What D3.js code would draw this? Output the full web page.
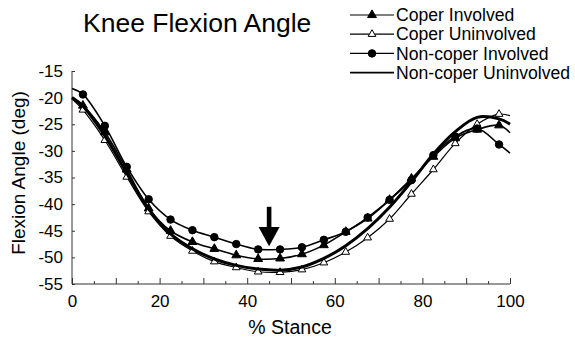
<!DOCTYPE html>
<html>
<head>
<meta charset="utf-8">
<script src="https://cdn.jsdelivr.net/npm/d3@7"></script>
<style>
  body { margin: 0; background: #fff; }
  svg { display: block; font-family: "Liberation Sans", Arial, sans-serif; }
</style>
</head>
<body>
<svg id="chart" width="575" height="339"></svg>
<script>
// % stance where the curves were sampled (markers drawn at the inner points)
var stance = [0, 2.5, 7.5, 12.5, 17.5, 22.5, 27.5, 32.5, 37.5, 42.5, 47.5, 52.5,
              57.5, 62.5, 67.5, 72.5, 77.5, 82.5, 87.5, 92.5, 97.5, 100];

var coperInvolved = [-20.0, -21.5, -26.5, -33.5, -40.8, -45.0, -47.1, -48.4, -49.6, -50.3, -50.2,
                     -49.4, -47.7, -45.2, -42.7, -39.2, -35.2, -31.1, -27.6, -26.0, -25.2, -26.6];
var coperUninvolved = [-20.2, -22.3, -28.0, -34.9, -41.4, -46.0, -48.8, -50.8, -51.9, -52.7, -52.8,
                       -52.3, -51.0, -49.0, -46.3, -42.8, -38.1, -33.5, -28.6, -25.0, -23.1, -23.4];
var noncoperInvolved = [-18.3, -19.4, -25.3, -33.0, -39.1, -42.9, -44.9, -46.2, -47.5, -48.5, -48.5,
                        -48.1, -46.7, -45.2, -42.5, -39.2, -35.5, -30.8, -27.3, -25.8, -28.8, -30.4];
var noncoperUninvolved = [-20.0, -21.6, -27.2, -34.2, -40.9, -45.6, -48.4, -50.3, -51.5, -52.2, -52.4,
                          -51.8, -50.2, -47.8, -44.6, -40.6, -35.8, -30.6, -26.4, -23.7, -24.0, -25.0];

var seriesNames = ["Coper Involved", "Coper Uninvolved", "Non-coper Involved", "Non-coper Uninvolved"];

var xTicks = [0, 20, 40, 60, 80, 100];
var yTicks = [-55, -50, -45, -40, -35, -30, -25, -20, -15];

// arrow pointing at the minimum (x in % stance, y in degrees)
var arrowX = 45;
var arrowTop = -40.5;
var arrowBase = -44.3;
var arrowTip = -47.9;

var svg = d3.select("#chart");

var x = d3.scaleLinear().domain([0, 100]).range([72, 510]);
var y = d3.scaleLinear().domain([-55, -15]).range([284, 71]);

// plain hyphen for negatives, like the original
function fmt(d) { return String(d); }

// title
svg.append("text")
    .attr("x", 83).attr("y", 32)
    .attr("font-size", 26.5)
    .text("Knee Flexion Angle");

// axes (ticks inward)
var xAxis = svg.append("g").attr("transform", "translate(0," + y(-55) + ")");
xAxis.call(d3.axisTop(x).tickValues(d3.range(0, 101, 5)).tickSize(3).tickFormat(""));
xAxis.selectAll(".tick line").attr("y2", function(d) { return d % 10 == 0 ? -6 : -3; });
xAxis.select(".domain").attr("d", "M" + x(0) + ",0H" + x(100));

var xLabels = svg.append("g").attr("transform", "translate(0," + y(-55) + ")");
xLabels.call(d3.axisBottom(x).tickValues(xTicks).tickSize(0).tickPadding(11).tickFormat(fmt));
xLabels.select(".domain").remove();
xLabels.selectAll("text").attr("font-size", 17).attr("font-family", "Liberation Sans, Arial, sans-serif");

var yAxis = svg.append("g").attr("transform", "translate(" + x(0) + ",0)");
yAxis.call(d3.axisRight(y).tickValues(yTicks).tickSize(3).tickFormat(""));
yAxis.select(".domain").attr("d", "M0," + y(-55) + "V" + y(-15));

var yLabels = svg.append("g").attr("transform", "translate(" + x(0) + ",0)");
yLabels.call(d3.axisLeft(y).tickValues(yTicks).tickSize(0).tickPadding(9).tickFormat(fmt));
yLabels.select(".domain").remove();
yLabels.selectAll("text").attr("font-size", 17).attr("font-family", "Liberation Sans, Arial, sans-serif");

svg.selectAll(".domain, .tick line").attr("stroke", "#333").attr("stroke-width", 1);

// axis titles
svg.append("text")
    .attr("x", 290).attr("y", 334)
    .attr("text-anchor", "middle")
    .attr("font-size", 19.5)
    .text("% Stance");

svg.append("text")
    .attr("transform", "translate(25,173) rotate(-90)")
    .attr("text-anchor", "middle")
    .attr("font-size", 19)
    .text("Flexion Angle (deg)");

// lines
var line = d3.line()
    .x(function(d) { return x(d[0]); })
    .y(function(d) { return y(d[1]); })
    .curve(d3.curveCatmullRom.alpha(0.5));

function zip(a, b) {
    return a.map(function(v, i) { return [v, b[i]]; });
}

var series = [
    { name: seriesNames[0], values: coperInvolved, width: 1.6, symbol: d3.symbolTriangle, size: 34, fill: "#000" },
    { name: seriesNames[1], values: coperUninvolved, width: 1.2, symbol: d3.symbolTriangle, size: 26, fill: "#fff" },
    { name: seriesNames[2], values: noncoperInvolved, width: 1.6, symbol: d3.symbolCircle, size: 44, fill: "#000" },
    { name: seriesNames[3], values: noncoperUninvolved, width: 3, symbol: null }
];

series.forEach(function(s) {
    var pts = zip(stance, s.values);
    svg.append("path")
        .attr("d", line(pts))
        .attr("fill", "none")
        .attr("stroke", "#000")
        .attr("stroke-width", s.width);

    if (s.symbol) {
        svg.append("g").selectAll("path")
            .data(pts.slice(1, -1))
            .enter().append("path")
            .attr("transform", function(d) { return "translate(" + x(d[0]) + "," + y(d[1]) + ")"; })
            .attr("d", d3.symbol().type(s.symbol).size(s.size))
            .attr("fill", s.fill)
            .attr("stroke", "#000")
            .attr("stroke-width", 1);
    }
});

// arrow
var ax = x(arrowX);
svg.append("rect")
    .attr("x", ax - 2.3).attr("y", y(arrowTop))
    .attr("width", 4.6).attr("height", y(arrowBase) - y(arrowTop) + 1)
    .attr("fill", "#000");
svg.append("path")
    .attr("d", "M" + (ax - 10.5) + "," + y(arrowBase) + "L" + (ax + 10.5) + "," + y(arrowBase) + "L" + ax + "," + y(arrowTip) + "Z")
    .attr("fill", "#000");

// legend
var legend = svg.append("g").attr("transform", "translate(350,15)");
var rows = legend.selectAll("g")
    .data(series)
    .enter().append("g")
    .attr("transform", function(d, i) { return "translate(0," + (i * 19.2) + ")"; });

rows.append("line")
    .attr("x1", 0).attr("x2", 44)
    .attr("stroke", "#000")
    .attr("stroke-width", function(d) { return d.symbol ? 1.2 : 1.6; });

rows.filter(function(d) { return d.symbol; }).append("path")
    .attr("transform", "translate(22,0)")
    .attr("d", function(d) { return d3.symbol().type(d.symbol).size(d.size)(); })
    .attr("fill", function(d) { return d.fill; })
    .attr("stroke", "#000");

rows.append("text")
    .attr("x", 46).attr("dy", "0.35em")
    .attr("font-size", 17.6)
    .text(function(d) { return d.name; });
</script>
</body>
</html>
